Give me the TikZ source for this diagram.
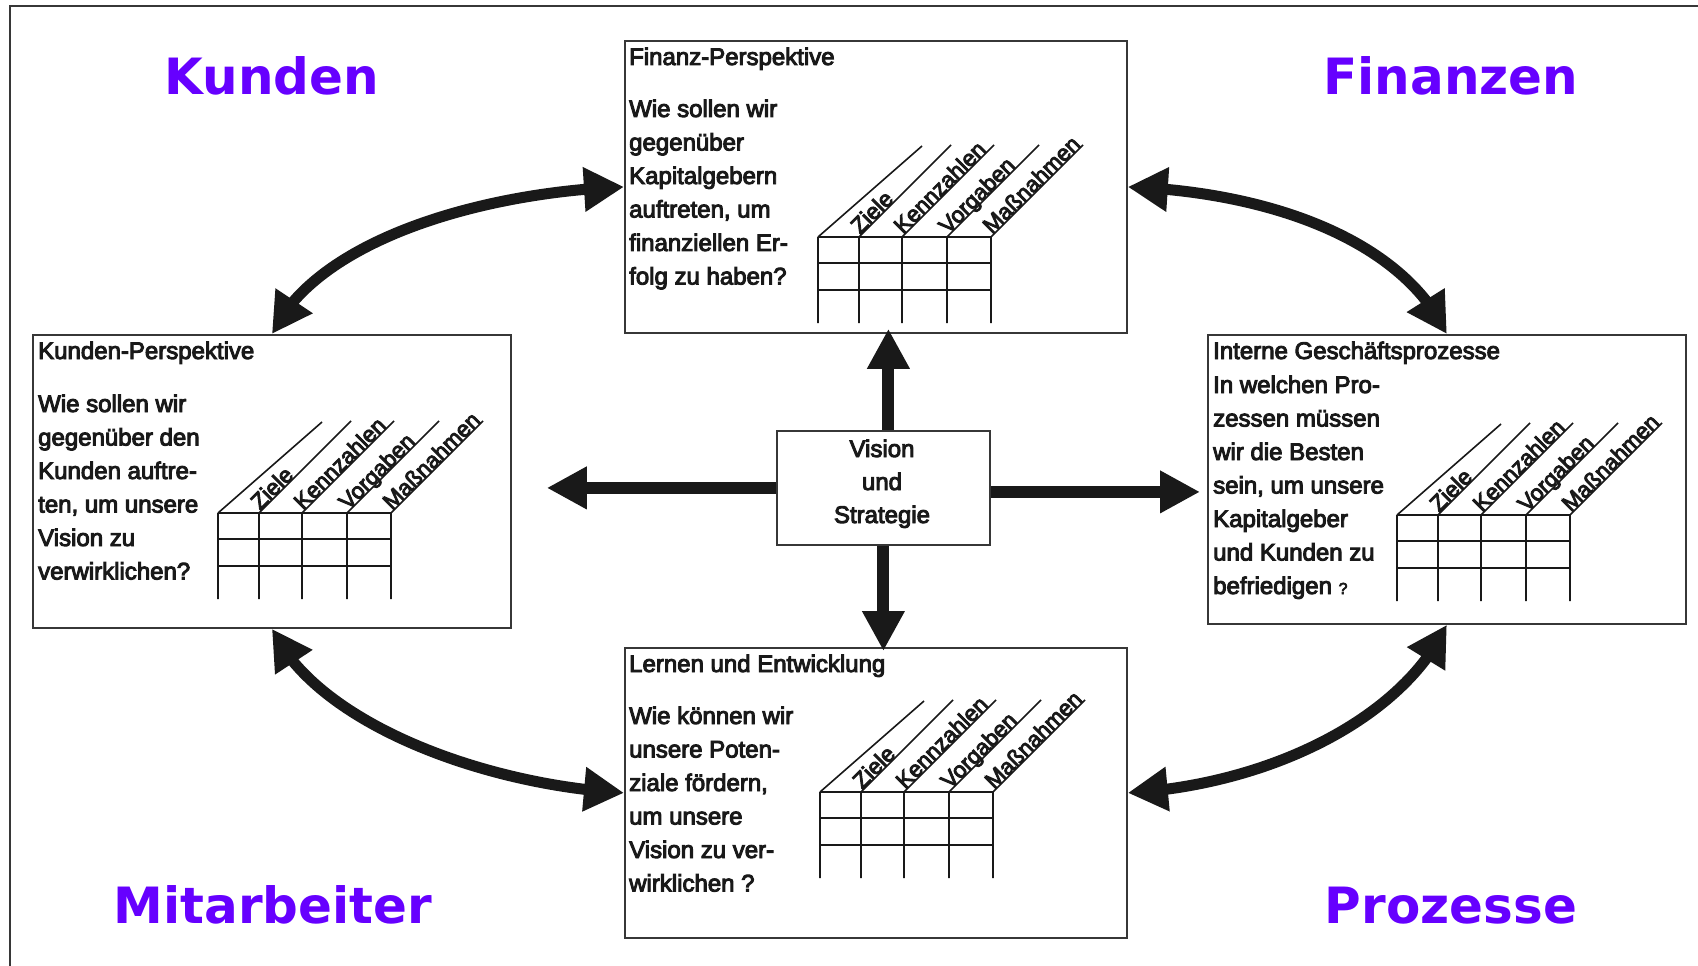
\documentclass[tikz,border=0pt]{standalone}
\usepackage{fontspec}
\setmainfont{Liberation Sans}
\newfontfamily\boxfont{Liberation Sans}[FakeBold=4]
\newfontfamily\cornerfont{DejaVu Sans}
\usetikzlibrary{arrows.meta,bending}

\definecolor{cornerpurple}{RGB}{102,0,255}
\definecolor{framegray}{RGB}{55,55,55}
\definecolor{inkblack}{RGB}{25,25,25}

% block of lines whose base is the first line's baseline
\newcommand\textlines[2][l]{\begin{tabular}[t]{@{}#1@{}}#2\end{tabular}}

\tikzset{
  x=1pt, y=-1pt,
  bscbox/.style={draw=framegray, line width=1.8pt, fill=white, inner sep=0pt,
    anchor=north west},
  boxtext/.style={anchor=base west, inner sep=0pt, text=inkblack,
    font=\boxfont\fontsize{24}{33.5}\selectfont},
  corner/.style={anchor=base, inner sep=0pt, text=cornerpurple,
    font=\cornerfont\bfseries\fontsize{50}{60}\selectfont},
  gridline/.style={line width=1.6pt, draw=inkblack},
  collabel/.style={anchor=base west, inner sep=0pt, rotate=45, text=inkblack,
    font=\boxfont\fontsize{22.5}{22.5}\selectfont},
  straightarrow/.style={line width=12pt, draw=inkblack,
    -{Triangle[length=40pt,width=40pt]}},
  bendarrow/.style={line width=11pt, draw=inkblack,
    {Triangle[length=40pt,width=42pt,flex]}-{Triangle[length=40pt,width=42pt,flex]}},
}

% scorecard table: columns Ziele, Kennzahlen, Vorgaben, Massnahmen
\newcommand\bscgrid[2]{%
  \begin{scope}[shift={#2}]
    \draw[gridline] (0,0) -- (173,0) (0,26) -- (173,26) (0,53) -- (173,53);
    \draw[gridline] (0,0) -- (0,86) (0,0) -- ++(104,-91);
    \foreach \gx in {41,84,129,173}{
      \draw[gridline] (\gx,0) -- (\gx,86) (\gx,0) -- ++(92,-92);
    }
    \node[collabel] (#1-ziele) at (42,-2) {Ziele};
    \node[collabel] (#1-kenn)  at (85,-2) {Kennzahlen};
    \node[collabel] (#1-vorg)  at (130,-2) {Vorgaben};
    \node[collabel] (#1-mass)  at (174,-2) {Maßnahmen};
  \end{scope}}

\begin{document}
\begin{tikzpicture}
  \useasboundingbox (0,0) rectangle (1698,966);
  \fill[white] (0,0) rectangle (1698,966);

  % outer frame
  \draw[framegray, line width=2.2pt] (10,966) -- (10,6) -- (1698,6);

  % perspective boxes
  \node[bscbox, minimum width=502pt, minimum height=292pt] (fin)  at (624,40) {};
  \node[bscbox, minimum width=478pt, minimum height=293pt] (kun)  at (32,334) {};
  \node[bscbox, minimum width=478pt, minimum height=289pt] (int)  at (1207,334) {};
  \node[bscbox, minimum width=502pt, minimum height=290pt] (lern) at (624,647) {};
  \node[bscbox, minimum width=213pt, minimum height=114pt] (vis) at (776,430) {};
  \node[boxtext, anchor=base, font=\boxfont\fontsize{24}{33}\selectfont]
        (visT) at (882,457) {\textlines[c]{Vision\\und\\Strategie}};

  % Finanz-Perspektive
  \node[boxtext] (finT) at (629,65) {Finanz-Perspektive};
  \node[boxtext] (finB) at (629,117) {\textlines{Wie sollen wir\\gegenüber\\Kapitalgebern\\auftreten, um\\finanziellen Er-\\folg zu haben?}};
  \bscgrid{fg}{(818,237)}

  % Kunden-Perspektive
  \node[boxtext] (kunT) at (38,359) {Kunden-Perspektive};
  \node[boxtext] (kunB) at (38,412) {\textlines{Wie sollen wir\\gegenüber den\\Kunden auftre-\\ten, um unsere\\Vision zu\\verwirklichen?}};
  \bscgrid{kg}{(218,513)}

  % Interne Geschaeftsprozesse
  \node[boxtext] (intT) at (1213,359) {Interne Geschäftsprozesse};
  \node[boxtext] (intB) at (1213,393) {\textlines{In welchen Pro-\\zessen müssen\\wir die Besten\\sein, um unsere\\Kapitalgeber\\und Kunden zu\\befriedigen {\fontsize{16}{16}\selectfont ?}}};
  \bscgrid{ig}{(1397,515)}

  % Lernen und Entwicklung
  \node[boxtext] (lernT) at (629,672) {Lernen und Entwicklung};
  \node[boxtext] (lernB) at (629,724) {\textlines{Wie können wir\\unsere Poten-\\ziale fördern,\\um unsere\\Vision zu ver-\\wirklichen ?}};
  \bscgrid{lg}{(820,792)}

  % arrows from the centre
  \draw[straightarrow] ([xshift=5pt]vis.north) -- ([xshift=5pt,yshift=5pt]vis.north |- fin.south);
  \draw[straightarrow] (vis.south) -- ([yshift=-4pt]vis.south |- lern.north);
  \draw[straightarrow] (vis.west) -- ([xshift=35pt]vis.west -| kun.east);
  \draw[straightarrow] ([yshift=-4pt]vis.east) -- ([xshift=-7pt,yshift=-4pt]vis.east -| int.west);

  % curved double arrows between neighbouring perspectives
  \draw[bendarrow] (kun.north) .. controls +(45,-95) and +(-140,5) .. (fin.west);
  \draw[bendarrow] (fin.east) .. controls +(140,5) and +(-45,-95) .. (int.north);
  \draw[bendarrow] (kun.south) .. controls +(45,95) and +(-140,-8) .. (lern.west);
  \draw[bendarrow] (lern.east) .. controls +(140,-8) and +(-45,95) .. (int.south);

  % perspective names
  \node[corner] (cK) at (272,95) {Kunden};
  \node[corner] (cF) at (1451,95) {Finanzen};
  \node[corner] (cM) at (273,923) {Mitarbeiter};
  \node[corner] (cP) at (1451,923) {Prozesse};
\end{tikzpicture}
\end{document}
